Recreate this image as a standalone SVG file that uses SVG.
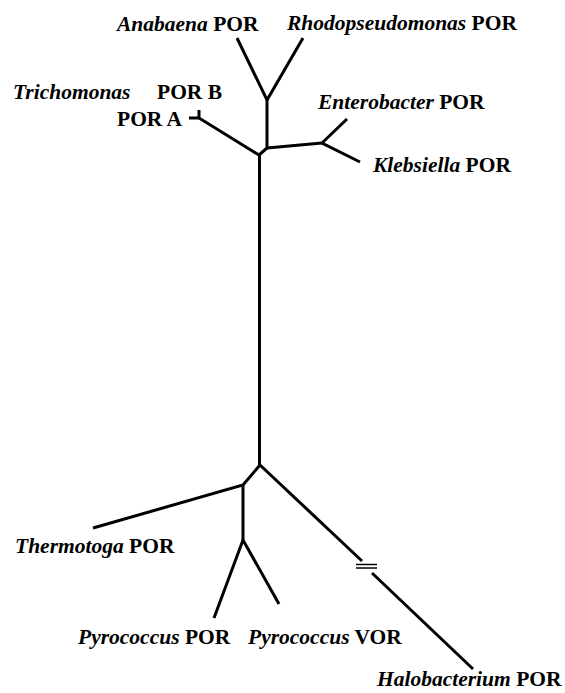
<svg xmlns="http://www.w3.org/2000/svg" width="565" height="693" viewBox="0 0 565 693">
<style>
.br{stroke:#000;stroke-width:3;fill:none;stroke-linecap:butt;stroke-linejoin:miter}
.brk{stroke:#000;stroke-width:1.5;fill:none}
text{font-family:"Liberation Serif","Times New Roman",serif;font-size:21.5px;font-weight:bold;fill:#000}
.i{font-style:italic}
</style>
<rect width="565" height="693" fill="#fff"/>
<g id="connectors">
<polyline class="br" points="237,38 267,100 303,38"/>
<polyline class="br" points="267,100 267,148 259,155"/>
<polyline class="br" points="267,148 322,143"/>
<polyline class="br" points="347,119 322,143 360,162"/>
<polyline class="br" points="199,110 199,118 259,155"/>
<line class="br" x1="189" y1="118" x2="199" y2="118"/>
<line class="br" x1="259.5" y1="155" x2="259.5" y2="465"/>
<polyline class="br" points="260,465 243,485 93,528"/>
<polyline class="br" points="243,485 243,540"/>
<polyline class="br" points="214,618 243,540 279,604"/>
<polyline class="br" points="260,465 362,561"/>
<polyline class="br" points="372,573 473,669"/>
<line class="brk" x1="356" y1="564.5" x2="377" y2="564.5"/>
<line class="brk" x1="356" y1="568" x2="377" y2="568"/>
</g>
<g id="anabaena"><text x="117" y="31"><tspan class="i">Anabaena</tspan> POR</text></g>
<g id="rhodopseudomonas"><text x="287" y="30"><tspan class="i">Rhodopseudomonas</tspan> POR</text></g>
<g id="trichomonas"><text x="13" y="99" class="i">Trichomonas</text><text x="157" y="99">POR B</text><text x="117" y="126">POR A</text></g>
<g id="enterobacter"><text x="318" y="109"><tspan class="i">Enterobacter</tspan> POR</text></g>
<g id="klebsiella"><text x="373" y="172"><tspan class="i">Klebsiella</tspan> POR</text></g>
<g id="thermotoga"><text x="15" y="553"><tspan class="i">Thermotoga</tspan> POR</text></g>
<g id="pyrococcus-por"><text x="78" y="644"><tspan class="i">Pyrococcus</tspan> POR</text></g>
<g id="pyrococcus-vor"><text x="248" y="644"><tspan class="i">Pyrococcus</tspan> VOR</text></g>
<g id="halobacterium"><text x="377" y="686"><tspan class="i">Halobacterium</tspan> POR</text></g>
</svg>
